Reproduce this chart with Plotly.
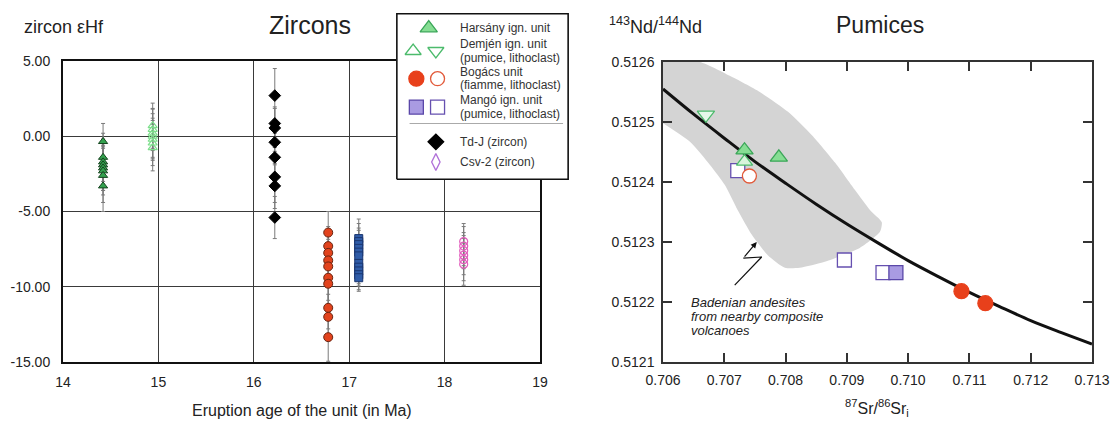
import plotly.graph_objects as go

W, H = 1110, 421
def PX(px): return px / W
def PY(py): return 1 - py / H

FONT = "Liberation Sans, Arial, sans-serif"

# ---------------- Left panel data (zircon eHf) ----------------
harsany_age = [14.42] * 8
harsany_ehf = [-0.35, -1.4, -1.7, -1.9, -2.1, -2.3, -2.6, -3.3]
harsany_err = [1.2, 1.6, 1.5, 1.7, 1.5, 1.6, 1.8, 1.7]

demjen_age = [14.94] * 7
demjen_ehf = [0.7, 0.45, 0.2, 0.0, -0.2, -0.45, -0.75]
demjen_err = [1.5, 1.4, 1.6, 1.5, 1.4, 1.5, 1.55]

tdj_age = [16.22] * 8
tdj_ehf = [2.7, 0.85, 0.55, -0.4, -1.4, -2.7, -3.3, -5.4]
tdj_err = [1.8, 1.1, 1.3, 1.5, 1.6, 1.7, 1.5, 1.4]

bogacs_age = [16.78] * 10
bogacs_ehf = [-6.4, -7.3, -7.75, -8.25, -8.65, -9.4, -9.8, -11.4, -12.0, -13.35]
bogacs_err = [1.4, 1.3, 1.5, 1.4, 1.3, 1.5, 1.4, 1.4, 1.5, 1.6]

mango_age = [17.1] * 11
mango_ehf = [-6.8, -7.0, -7.2, -7.45, -7.7, -7.95, -8.45, -8.7, -8.95, -9.2, -9.4]
mango_err = [1.3, 1.2, 1.1, 1.2, 1.0, 1.1, 1.0, 1.1, 1.0, 1.0, 0.9]

csv2_age = [18.2] * 6
csv2_ehf = [-7.0, -7.3, -7.6, -7.9, -8.2, -8.5]
csv2_err = [1.2, 1.3, 1.2, 1.3, 1.4, 1.4]

left_xticks = [14, 15, 16, 17, 18, 19]
left_yticks = [-15, -10, -5, 0, 5]
left_yticktext = ["-15.00", "-10.00", "-5.00", "0.00", "5.00"]

# ---------------- Right panel data (pumices Sr-Nd) ----------------
harsany_sr = [0.70733, 0.70789]
harsany_nd = [0.512453, 0.512441]
demjen_up_sr = [0.70733]
demjen_up_nd = [0.512434]
demjen_dn_sr = [0.70670]
demjen_dn_nd = [0.512512]
bogacs_f_sr = [0.71087, 0.71126]
bogacs_f_nd = [0.512218, 0.512198]
bogacs_l_sr = [0.70741]
bogacs_l_nd = [0.512410]
mango_p_sr = [0.70722, 0.70896, 0.70959]
mango_p_nd = [0.512419, 0.512270, 0.512249]
mango_l_sr = [0.70980]
mango_l_nd = [0.512249]

curve_sr = [0.7060, 0.7065, 0.7070, 0.7075, 0.7080, 0.7085, 0.7090, 0.7095,
            0.7100, 0.7105, 0.7110, 0.7115, 0.7120, 0.7125, 0.7130]
curve_nd = [0.512555, 0.512513, 0.512473, 0.512434, 0.512398, 0.512363, 0.512330,
            0.512299, 0.512269, 0.512242, 0.512216, 0.512192, 0.512169, 0.512149, 0.512130]

field_sr = [0.70600, 0.70660, 0.70709, 0.70758, 0.70804, 0.70843, 0.70881, 0.70913,
            0.70938, 0.70957, 0.70954, 0.70921, 0.70864, 0.70823, 0.70799, 0.70771,
            0.70745, 0.70722, 0.70701, 0.70677, 0.70644, 0.70600]
field_nd = [0.512600, 0.512600, 0.512577, 0.512550, 0.512517, 0.512478, 0.512432, 0.512387,
            0.512353, 0.512333, 0.512317, 0.512290, 0.512267, 0.512257, 0.512257, 0.512278,
            0.512312, 0.512353, 0.512395, 0.512428, 0.512467, 0.512498]

bolt_sr = [0.70717, 0.70761, 0.70731]
bolt_nd = [0.512228, 0.512275, 0.512273]
bolt_tip = (0.70753, 0.512300)

right_xticks = [0.706, 0.707, 0.708, 0.709, 0.710, 0.711, 0.712, 0.713]
right_yticks = [0.5121, 0.5122, 0.5123, 0.5124, 0.5125, 0.5126]

# ---------------- Legend rows ----------------
legend_labels = [
    ["Harsány ign. unit"],
    ["Demjén ign. unit", "(pumice, lithoclast)"],
    ["Bogács unit", "(fiamme, lithoclast)"],
    ["Mangó ign. unit", "(pumice, lithoclast)"],
    ["Td-J (zircon)"],
    ["Csv-2 (zircon)"],
]

fig = go.Figure()

ERR = dict(type="data", thickness=1, width=2, color="#7a7a7a")

def zircon(x, y, e, symbol, size, fill, line, lw=1):
    fig.add_trace(go.Scatter(
        x=x, y=y, mode="markers", xaxis="x", yaxis="y",
        error_y=dict(array=e, **ERR),
        marker=dict(symbol=symbol, size=size, color=fill, line=dict(color=line, width=lw)),
        showlegend=False, cliponaxis=False, hoverinfo="skip"))

zircon(harsany_age, harsany_ehf, harsany_err, "triangle-up", 8, "#34a24f", "#15451f")
zircon(demjen_age, demjen_ehf, demjen_err, "triangle-up-open", 8, "#7ddf8c", "#7ddf8c", 1.2)
zircon(tdj_age, tdj_ehf, tdj_err, "diamond", 9, "#000000", "#000000")
zircon(bogacs_age, bogacs_ehf, bogacs_err, "circle", 9, "#e2431d", "#6a2410")
zircon(mango_age, mango_ehf, mango_err, "square", 8, "#2f5ca8", "#1a3670")
zircon(csv2_age, csv2_ehf, csv2_err, "circle-open", 8, "#e25cbc", "#e25cbc", 1.2)

# ---------------- Right panel traces ----------------
fig.add_trace(go.Scatter(x=field_sr, y=field_nd, mode="lines", fill="toself",
                         fillcolor="#d4d4d4", line=dict(width=0, shape="spline", smoothing=0.6),
                         xaxis="x2", yaxis="y2", showlegend=False, hoverinfo="skip"))
fig.add_trace(go.Scatter(x=curve_sr, y=curve_nd, mode="lines",
                         line=dict(color="#111111", width=3, shape="spline"),
                         xaxis="x2", yaxis="y2", showlegend=False, hoverinfo="skip"))
fig.add_trace(go.Scatter(x=bolt_sr, y=bolt_nd, mode="lines",
                         line=dict(color="#111111", width=1.2),
                         xaxis="x2", yaxis="y2", showlegend=False, hoverinfo="skip"))

def pumice(x, y, symbol, size, fill, line, lw=1.3):
    fig.add_trace(go.Scatter(x=x, y=y, mode="markers", xaxis="x2", yaxis="y2",
                             marker=dict(symbol=symbol, size=size, color=fill,
                                         line=dict(color=line, width=lw)),
                             showlegend=False, cliponaxis=False, hoverinfo="skip"))

pumice(mango_p_sr, mango_p_nd, "square", 14, "#ffffff", "#6650b0")
pumice(mango_l_sr, mango_l_nd, "square", 14, "#a99be2", "#5a47a8")
pumice(bogacs_l_sr, bogacs_l_nd, "circle", 14, "#ffffff", "#e25a3a")
pumice(bogacs_f_sr, bogacs_f_nd, "circle", 15, "#e8401b", "#e8401b")
pumice(demjen_dn_sr, demjen_dn_nd, "triangle-down", 15, "#e6f8ea", "#4cbb6c")
pumice(harsany_sr, harsany_nd, "triangle-up", 15, "#86dd93", "#3aa658")
pumice(demjen_up_sr, demjen_up_nd, "triangle-up", 14, "#d8f5dc", "#4cbb6c")

# ---------------- Legend (own overlay subplot) ----------------
fig.add_trace(go.Scatter(x=[-0.005, 1.005, 1.005, -0.005, -0.005], y=[-0.005, -0.005, 1.005, 1.005, -0.005],
                         mode="lines", fill="toself", fillcolor="#ffffff",
                         line=dict(color="#111111", width=1.6),
                         xaxis="x3", yaxis="y3", showlegend=False, hoverinfo="skip"))
fig.add_trace(go.Scatter(x=[0.07, 0.975], y=[0.335, 0.335], mode="lines",
                         line=dict(color="#aaaaaa", width=1),
                         xaxis="x3", yaxis="y3", showlegend=False, hoverinfo="skip"))

def lg(x, y, symbol, size, fill, line, lw=1.3):
    fig.add_trace(go.Scatter(x=[x], y=[y], mode="markers", xaxis="x3", yaxis="y3",
                             marker=dict(symbol=symbol, size=size, color=fill,
                                         line=dict(color=line, width=lw)),
                             showlegend=False, cliponaxis=False, hoverinfo="skip"))

row_y = [0.918, 0.778, 0.609, 0.435, 0.223, 0.100]
lg(0.183, row_y[0], "triangle-up", 15, "#86dd93", "#3aa658")
lg(0.091, row_y[1], "triangle-up", 14, "#ffffff", "#4cbb6c")
lg(0.225, row_y[1], "triangle-down", 14, "#ffffff", "#4cbb6c")
lg(0.110, row_y[2], "circle", 15, "#e8401b", "#e8401b")
lg(0.235, row_y[2], "circle", 14, "#ffffff", "#e25a3a")
lg(0.110, row_y[3], "square", 14, "#a99be2", "#5a47a8")
lg(0.235, row_y[3], "square", 14, "#ffffff", "#6650b0")
lg(0.225, row_y[4], "diamond", 12, "#000000", "#000000")
lg(0.225, row_y[5], "diamond-tall-open", 12, "#b070d8", "#b070d8")

annotations = []
line_gap = 0.082
for labels, yy in zip(legend_labels, row_y):
    n = len(labels)
    for i, t in enumerate(labels):
        off = (n - 1) / 2 * line_gap - i * line_gap
        annotations.append(dict(x=0.357, y=yy + off, xref="x3", yref="y3", text=t,
                                showarrow=False, xanchor="left", yanchor="middle",
                                font=dict(family=FONT, size=12, color="#333333")))

# ---------------- Text annotations ----------------
def txt(text, px, py, size, xanchor="center", italic=False, color="#222222"):
    annotations.append(dict(x=PX(px), y=PY(py), xref="paper", yref="paper", text=text,
                            showarrow=False, xanchor=xanchor, yanchor="middle",
                            font=dict(family=FONT, size=size, color=color,
                                      style="italic" if italic else "normal")))

txt("zircon εHf", 22, 27, 18, xanchor="left")
txt("Zircons", 310, 25, 25)
txt("Eruption age of the unit (in Ma)", 302, 410, 16)
txt("<sup>143</sup>Nd/<sup>144</sup>Nd", 607, 26, 18, xanchor="left")
txt("Pumices", 880, 25, 23)
txt("<sup>87</sup>Sr/<sup>86</sup>Sr<sub>i</sub>", 877, 408, 16)
txt("Badenian andesites", 689, 302, 13, xanchor="left", italic=True)
txt("from nearby composite", 689, 316, 13, xanchor="left", italic=True)
txt("volcanoes", 689, 330, 13, xanchor="left", italic=True)

annotations.append(dict(x=bolt_tip[0], y=bolt_tip[1], ax=bolt_sr[-1], ay=bolt_nd[-1],
                        xref="x2", yref="y2", axref="x2", ayref="y2", text="",
                        showarrow=True, arrowhead=2, arrowsize=1, arrowwidth=1.2,
                        arrowcolor="#111111"))

tickfont = dict(family=FONT, size=14, color="#222222")
fig.update_layout(
    width=W, height=H, margin=dict(l=0, r=0, t=0, b=0, autoexpand=False),
    paper_bgcolor="white", plot_bgcolor="white",
    showlegend=False, annotations=annotations,
    xaxis=dict(domain=[PX(63), PX(540)], anchor="y", range=[14, 19], tickvals=left_xticks,
               showgrid=True, gridcolor="#3a3a3a", gridwidth=1, zeroline=False,
               showline=True, mirror=True, linecolor="#111111", linewidth=2,
               ticks="", tickfont=tickfont, ticklabelstandoff=6, automargin=False),
    yaxis=dict(domain=[PY(362), PY(61)], anchor="x", range=[-15, 5], tickvals=left_yticks,
               ticktext=left_yticktext, showgrid=True, gridcolor="#3a3a3a", gridwidth=1,
               zeroline=False, showline=True, mirror=True, linecolor="#111111", linewidth=2,
               ticks="", tickfont=tickfont, ticklabelstandoff=8, automargin=False),
    xaxis2=dict(domain=[PX(663), PX(1092)], anchor="y2", range=[0.706, 0.713],
                tickvals=right_xticks, tickformat=".3f", showgrid=False, zeroline=False,
                showline=True, mirror="ticks", linecolor="#333333", linewidth=1.5,
                ticks="inside", ticklen=9, tickwidth=1.5, tickcolor="#333333",
                tickfont=tickfont, ticklabelstandoff=4, automargin=False),
    yaxis2=dict(domain=[PY(362), PY(62)], anchor="x2", range=[0.5121, 0.5126],
                tickvals=right_yticks, tickformat=".4f", showgrid=False, zeroline=False,
                showline=True, mirror="ticks", linecolor="#333333", linewidth=1.5,
                ticks="inside", ticklen=9, tickwidth=1.5, tickcolor="#333333",
                tickfont=tickfont, ticklabelstandoff=4, automargin=False),
    xaxis3=dict(domain=[PX(396), PX(569)], anchor="y3", range=[-0.01, 1.01], visible=False,
                fixedrange=True, automargin=False),
    yaxis3=dict(domain=[PY(180), PY(13)], anchor="x3", range=[-0.01, 1.01], visible=False,
                fixedrange=True, automargin=False),
)

fig.write_html("out.html")
